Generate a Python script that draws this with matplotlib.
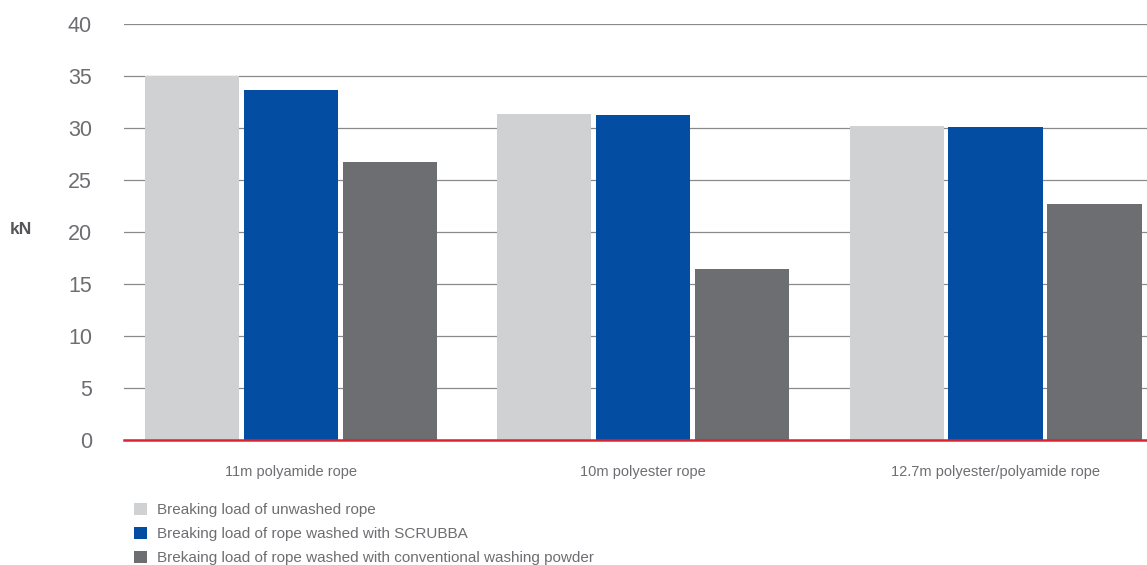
import matplotlib

matplotlib.use("Agg")
import matplotlib.pyplot as plt
import numpy as np
from matplotlib.patches import Patch

categories = ["11m polyamide rope", "10m polyester rope", "12.7m polyester/polyamide rope"]
unwashed = [35.0, 31.35, 30.2]
scrubba = [33.65, 31.25, 30.1]
powder = [26.7, 16.4, 22.7]
series_labels = [
    "Breaking load of unwashed rope",
    "Breaking load of rope washed with SCRUBBA",
    "Brekaing load of rope washed with conventional washing powder",
]
y_ticks = [0, 5, 10, 15, 20, 25, 30, 35, 40]

colors = ["#d0d1d3", "#034ea2", "#6d6e71"]
text_grey = "#6d6e71"

plt.rcParams["font.family"] = ["Liberation Sans", "DejaVu Sans"]

fig = plt.figure(figsize=(11.47, 5.65), dpi=100)
ax = fig.add_axes([124 / 1147, 125 / 565, 1 - 124 / 1147, 416 / 565])

x = np.arange(len(categories))
width = 0.267
step = 0.281
for i, vals in enumerate([unwashed, scrubba, powder]):
    ax.bar(x + (i - 1) * step, vals, width=width, color=colors[i], zorder=2)

ax.set_ylim(0, 40)
ax.set_xlim(-0.474, 2.43)
ax.set_yticks(y_ticks)
ax.set_xticks(x)
ax.set_xticklabels(categories)
ax.yaxis.grid(True, color="#8a8a8a", linewidth=0.9, zorder=1)
ax.set_axisbelow(True)
for s in ["top", "right", "left"]:
    ax.spines[s].set_visible(False)
ax.spines["bottom"].set_color("#d9262e")
ax.spines["bottom"].set_linewidth(1.8)
ax.spines["bottom"].set_zorder(3)
ax.tick_params(axis="y", length=0, pad=23, labelsize=15.5, labelcolor=text_grey)
ax.tick_params(axis="x", length=0, pad=18, labelsize=10.5, labelcolor=text_grey)

fig.text(10 / 1147, 1 - 230 / 565, "kN", fontsize=12.5, fontweight="bold", color="#555658",
         ha="left", va="center")

handles = [Patch(facecolor=c, edgecolor="none", label=l) for c, l in zip(colors, series_labels)]
fig.legend(
    handles=handles,
    loc="upper left",
    bbox_to_anchor=(129 / 1147, 1 - 498 / 565),
    frameon=False,
    fontsize=11,
    handlelength=0.9,
    handleheight=0.9,
    handletextpad=0.62,
    labelspacing=0.62,
    labelcolor=text_grey,
    borderaxespad=0,
    borderpad=0.3,
)

fig.savefig("out.png", dpi=100)
plt.close(fig)
